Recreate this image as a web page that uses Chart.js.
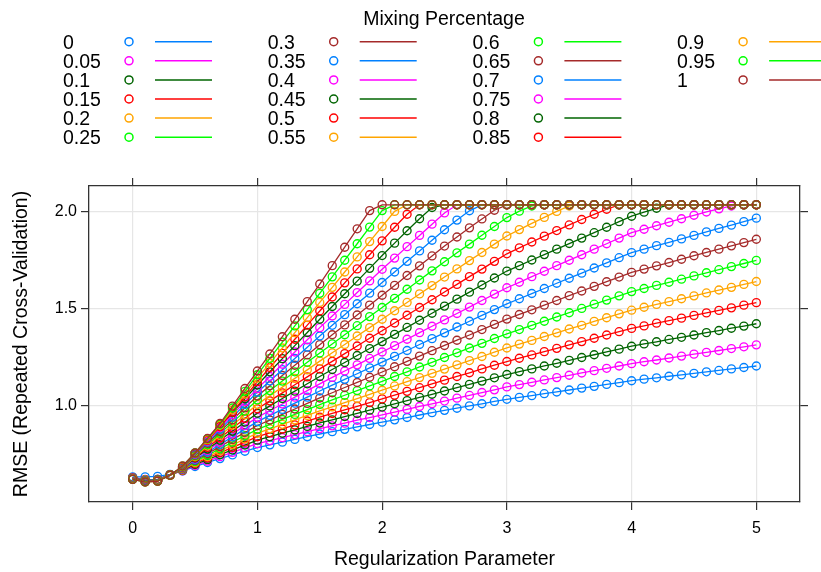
<!DOCTYPE html>
<html>
<head>
<meta charset="utf-8">
<script src="https://cdn.jsdelivr.net/npm/chart.js@4.4.1/dist/chart.umd.min.js"></script>
<style>
  html, body { margin: 0; padding: 0; background: #fff; }
  #wrap { width: 821px; height: 572px; }
</style>
</head>
<body>
<div id="wrap"><canvas id="chart" width="821" height="572"></canvas></div>
<script>
// regularization parameter (x)
const lambdas = [0,0.1,0.2,0.3,0.4,0.5,0.6,0.7,0.8,0.9,1,1.1,1.2,1.3,1.4,1.5,1.6,1.7,1.8,1.9,2,
  2.1,2.2,2.3,2.4,2.5,2.6,2.7,2.8,2.9,3,3.1,3.2,3.3,3.4,3.5,3.6,3.7,3.8,3.9,4,
  4.1,4.2,4.3,4.4,4.5,4.6,4.7,4.8,4.9,5];

// mixing percentage (one series each)
const mixLabels = ['0','0.05','0.1','0.15','0.2','0.25','0.3','0.35','0.4','0.45','0.5',
  '0.55','0.6','0.65','0.7','0.75','0.8','0.85','0.9','0.95','1'];

// RMSE, one array per mixing percentage
const rmse000 = [0.630,0.630,0.632,0.642,0.660,0.683,0.704,0.724,0.743,0.762,0.781,
  0.795,0.809,0.823,0.837,0.851,0.863,0.875,0.888,0.900,0.912,
  0.924,0.936,0.949,0.961,0.973,0.984,0.996,1.007,1.019,1.030,
  1.040,1.049,1.059,1.068,1.078,1.088,1.097,1.107,1.116,1.126,
  1.134,1.141,1.149,1.156,1.164,1.172,1.179,1.187,1.194,1.202];
const rmse005 = [0.626,0.616,0.617,0.641,0.661,0.689,0.711,0.734,0.756,0.779,0.801,
  0.817,0.832,0.848,0.863,0.879,0.893,0.907,0.922,0.936,0.950,
  0.964,0.978,0.993,1.007,1.021,1.036,1.050,1.065,1.079,1.094,
  1.106,1.118,1.130,1.142,1.154,1.166,1.178,1.190,1.202,1.214,
  1.224,1.233,1.243,1.253,1.263,1.272,1.282,1.292,1.301,1.311];
const rmse010 = [0.626,0.615,0.616,0.641,0.663,0.694,0.719,0.744,0.769,0.794,0.819,
  0.837,0.855,0.872,0.890,0.908,0.924,0.941,0.957,0.974,0.990,
  1.007,1.023,1.040,1.056,1.073,1.090,1.107,1.124,1.141,1.158,
  1.173,1.187,1.202,1.216,1.231,1.246,1.260,1.275,1.289,1.304,
  1.316,1.327,1.339,1.350,1.362,1.374,1.385,1.397,1.408,1.420];
const rmse015 = [0.625,0.615,0.616,0.641,0.664,0.699,0.727,0.754,0.782,0.809,0.837,
  0.857,0.877,0.898,0.918,0.938,0.957,0.976,0.994,1.013,1.032,
  1.051,1.071,1.090,1.110,1.129,1.148,1.167,1.187,1.206,1.225,
  1.242,1.259,1.276,1.293,1.311,1.328,1.345,1.362,1.379,1.396,
  1.409,1.423,1.436,1.449,1.463,1.476,1.489,1.502,1.516,1.529];
const rmse020 = [0.625,0.614,0.615,0.640,0.665,0.704,0.734,0.764,0.795,0.825,0.855,
  0.878,0.901,0.924,0.947,0.970,0.991,1.013,1.034,1.056,1.077,
  1.099,1.121,1.142,1.164,1.186,1.208,1.230,1.251,1.273,1.295,
  1.315,1.334,1.354,1.373,1.393,1.412,1.432,1.451,1.471,1.490,
  1.505,1.520,1.534,1.549,1.564,1.579,1.594,1.608,1.623,1.638];
const rmse025 = [0.624,0.613,0.615,0.640,0.667,0.709,0.742,0.775,0.809,0.842,0.875,
  0.901,0.926,0.952,0.977,1.003,1.027,1.051,1.075,1.099,1.123,
  1.148,1.172,1.197,1.221,1.246,1.270,1.295,1.319,1.344,1.368,
  1.390,1.412,1.433,1.455,1.477,1.499,1.521,1.542,1.564,1.586,
  1.602,1.618,1.634,1.650,1.667,1.683,1.699,1.715,1.731,1.747];
const rmse030 = [0.624,0.612,0.614,0.640,0.668,0.714,0.750,0.786,0.823,0.859,0.895,
  0.923,0.952,0.980,1.009,1.037,1.064,1.091,1.117,1.144,1.171,
  1.198,1.226,1.253,1.281,1.308,1.335,1.362,1.390,1.417,1.444,
  1.468,1.492,1.516,1.540,1.565,1.589,1.613,1.637,1.661,1.685,
  1.702,1.719,1.736,1.753,1.771,1.788,1.805,1.822,1.839,1.856];
const rmse035 = [0.623,0.612,0.614,0.640,0.669,0.718,0.757,0.797,0.836,0.876,0.915,
  0.947,0.978,1.010,1.041,1.073,1.103,1.133,1.162,1.192,1.222,
  1.252,1.282,1.313,1.343,1.373,1.403,1.433,1.463,1.493,1.523,
  1.549,1.576,1.602,1.629,1.655,1.681,1.708,1.734,1.761,1.787,
  1.805,1.823,1.840,1.858,1.876,1.894,1.912,1.929,1.947,1.965];
const rmse040 = [0.623,0.611,0.613,0.640,0.670,0.723,0.766,0.809,0.851,0.894,0.937,
  0.972,1.006,1.041,1.075,1.110,1.143,1.176,1.208,1.241,1.274,
  1.307,1.340,1.374,1.407,1.440,1.473,1.506,1.540,1.573,1.606,
  1.634,1.663,1.691,1.720,1.748,1.776,1.805,1.833,1.862,1.890,
  1.908,1.926,1.944,1.962,1.980,1.997,2.013,2.028,2.034,2.034];
const rmse045 = [0.622,0.610,0.613,0.640,0.672,0.727,0.773,0.819,0.866,0.912,0.958,
  0.996,1.034,1.072,1.110,1.148,1.184,1.220,1.256,1.292,1.328,
  1.365,1.401,1.438,1.474,1.511,1.547,1.583,1.620,1.656,1.692,
  1.720,1.749,1.777,1.805,1.834,1.862,1.890,1.918,1.947,1.975,
  1.996,2.016,2.034,2.034,2.034,2.034,2.034,2.034,2.034,2.034];
const rmse050 = [0.622,0.610,0.612,0.639,0.673,0.731,0.781,0.831,0.881,0.931,0.981,
  1.022,1.063,1.105,1.146,1.187,1.226,1.266,1.305,1.345,1.384,
  1.424,1.464,1.504,1.544,1.584,1.623,1.663,1.702,1.742,1.781,
  1.812,1.842,1.872,1.901,1.930,1.958,1.985,2.011,2.034,2.034,
  2.034,2.034,2.034,2.034,2.034,2.034,2.034,2.034,2.034,2.034];
const rmse055 = [0.621,0.609,0.612,0.639,0.674,0.735,0.789,0.843,0.896,0.950,1.004,
  1.049,1.093,1.138,1.182,1.227,1.270,1.313,1.357,1.400,1.443,
  1.487,1.530,1.574,1.617,1.661,1.703,1.746,1.788,1.831,1.873,
  1.906,1.938,1.969,2.000,2.028,2.034,2.034,2.034,2.034,2.034,
  2.034,2.034,2.034,2.034,2.034,2.034,2.034,2.034,2.034,2.034];
const rmse060 = [0.621,0.608,0.611,0.639,0.676,0.738,0.796,0.854,0.911,0.969,1.027,
  1.075,1.124,1.172,1.221,1.269,1.316,1.363,1.410,1.457,1.504,
  1.551,1.598,1.646,1.693,1.740,1.786,1.831,1.877,1.922,1.968,
  2.001,2.028,2.034,2.034,2.034,2.034,2.034,2.034,2.034,2.034,
  2.034,2.034,2.034,2.034,2.034,2.034,2.034,2.034,2.034,2.034];
const rmse065 = [0.620,0.608,0.611,0.639,0.677,0.742,0.803,0.864,0.925,0.986,1.047,
  1.100,1.153,1.206,1.259,1.312,1.363,1.414,1.465,1.516,1.567,
  1.618,1.669,1.719,1.770,1.821,1.868,1.915,1.961,2.006,2.034,
  2.034,2.034,2.034,2.034,2.034,2.034,2.034,2.034,2.034,2.034,
  2.034,2.034,2.034,2.034,2.034,2.034,2.034,2.034,2.034,2.034];
const rmse070 = [0.620,0.607,0.610,0.639,0.678,0.745,0.809,0.874,0.938,1.003,1.067,
  1.125,1.183,1.241,1.299,1.357,1.412,1.467,1.523,1.578,1.633,
  1.687,1.742,1.796,1.851,1.905,1.955,2.003,2.034,2.034,2.034,
  2.034,2.034,2.034,2.034,2.034,2.034,2.034,2.034,2.034,2.034,
  2.034,2.034,2.034,2.034,2.034,2.034,2.034,2.034,2.034,2.034];
const rmse075 = [0.619,0.606,0.610,0.639,0.680,0.748,0.815,0.883,0.950,1.018,1.085,
  1.148,1.211,1.274,1.337,1.400,1.460,1.520,1.581,1.641,1.701,
  1.759,1.818,1.876,1.934,1.992,2.034,2.034,2.034,2.034,2.034,
  2.034,2.034,2.034,2.034,2.034,2.034,2.034,2.034,2.034,2.034,
  2.034,2.034,2.034,2.034,2.034,2.034,2.034,2.034,2.034,2.034];
const rmse080 = [0.619,0.606,0.609,0.638,0.681,0.750,0.821,0.892,0.962,1.033,1.104,
  1.172,1.240,1.307,1.375,1.443,1.509,1.575,1.640,1.706,1.772,
  1.836,1.900,1.962,2.020,2.034,2.034,2.034,2.034,2.034,2.034,
  2.034,2.034,2.034,2.034,2.034,2.034,2.034,2.034,2.034,2.034,
  2.034,2.034,2.034,2.034,2.034,2.034,2.034,2.034,2.034,2.034];
const rmse085 = [0.618,0.605,0.609,0.638,0.682,0.751,0.818,0.889,0.964,1.042,1.121,
  1.194,1.267,1.340,1.413,1.486,1.558,1.631,1.703,1.776,1.848,
  1.918,1.985,2.034,2.034,2.034,2.034,2.034,2.034,2.034,2.034,
  2.034,2.034,2.034,2.034,2.034,2.034,2.034,2.034,2.034,2.034,
  2.034,2.034,2.034,2.034,2.034,2.034,2.034,2.034,2.034,2.034];
const rmse090 = [0.618,0.604,0.608,0.638,0.683,0.752,0.822,0.896,0.975,1.057,1.139,
  1.217,1.295,1.374,1.452,1.530,1.608,1.687,1.765,1.844,1.922,
  2.000,2.034,2.034,2.034,2.034,2.034,2.034,2.034,2.034,2.034,
  2.034,2.034,2.034,2.034,2.034,2.034,2.034,2.034,2.034,2.034,
  2.034,2.034,2.034,2.034,2.034,2.034,2.034,2.034,2.034,2.034];
const rmse095 = [0.617,0.604,0.608,0.638,0.685,0.753,0.826,0.901,0.985,1.071,1.157,
  1.241,1.325,1.409,1.493,1.577,1.662,1.748,1.833,1.919,2.004,
  2.034,2.034,2.034,2.034,2.034,2.034,2.034,2.034,2.034,2.034,
  2.034,2.034,2.034,2.034,2.034,2.034,2.034,2.034,2.034,2.034,
  2.034,2.034,2.034,2.034,2.034,2.034,2.034,2.034,2.034,2.034];
const rmse100 = [0.617,0.603,0.607,0.638,0.686,0.753,0.828,0.905,0.995,1.086,1.176,
  1.264,1.353,1.443,1.534,1.625,1.720,1.815,1.910,2.004,2.034,
  2.034,2.034,2.034,2.034,2.034,2.034,2.034,2.034,2.034,2.034,
  2.034,2.034,2.034,2.034,2.034,2.034,2.034,2.034,2.034,2.034,
  2.034,2.034,2.034,2.034,2.034,2.034,2.034,2.034,2.034,2.034];

const rmseSeries = [rmse000, rmse005, rmse010, rmse015, rmse020, rmse025, rmse030,
  rmse035, rmse040, rmse045, rmse050, rmse055, rmse060, rmse065, rmse070,
  rmse075, rmse080, rmse085, rmse090, rmse095, rmse100];

// axis ticks
const xTicks = [0, 1, 2, 3, 4, 5];
const yTicks = [1.0, 1.5, 2.0];

// lattice superpose colours, recycled
const palette = ['#0080ff', '#ff00ff', '#006400', '#ff0000', '#ffa500', '#00ff00', '#a52a2a'];

const FONT = '"Liberation Sans", Arial, Helvetica, sans-serif';
Chart.defaults.font.family = FONT;
Chart.defaults.color = '#000';

const datasets = rmseSeries.map((vals, i) => ({
  label: mixLabels[i],
  data: lambdas.map((x, j) => ({ x: x, y: vals[j] })),
  borderColor: palette[i % palette.length],
  backgroundColor: 'rgba(0,0,0,0)',
  borderWidth: 1.3,
  pointRadius: 4,
  pointBorderWidth: 1.35,
  pointBackgroundColor: 'rgba(0,0,0,0)',
  pointBorderColor: palette[i % palette.length],
  tension: 0,
  order: rmseSeries.length - i   // last group drawn on top, like lattice
}));

// key above the panel: title + 4 columns of "label  o  ----"
const latticeKey = {
  id: 'latticeKey',
  afterDraw(chart) {
    const ctx = chart.ctx;
    ctx.save();
    ctx.fillStyle = '#000';
    ctx.textAlign = 'center';
    ctx.textBaseline = 'alphabetic';
    ctx.font = '19.5px ' + FONT;
    ctx.fillText('Mixing Percentage', 444, 25);
    ctx.textAlign = 'left';
    chart.data.datasets.forEach((ds, i) => {
      const col = Math.floor(i / 6), row = i % 6;
      const x0 = 63 + col * 204.7;
      const y = 41.7 + row * 19.1;
      ctx.fillStyle = '#000';
      ctx.fillText(ds.label, x0, y + 7);
      ctx.strokeStyle = ds.borderColor;
      ctx.lineWidth = 1.5;
      ctx.beginPath();
      ctx.arc(x0 + 66, y, 4, 0, Math.PI * 2);
      ctx.stroke();
      ctx.beginPath();
      ctx.moveTo(x0 + 92, y);
      ctx.lineTo(x0 + 149, y);
      ctx.stroke();
    });
    ctx.restore();
  }
};

const setTicks = (vals) => (scale) => { scale.ticks = vals.map(v => ({ value: v })); };

new Chart(document.getElementById('chart').getContext('2d'), {
  type: 'line',
  data: { datasets: datasets },
  plugins: [latticeKey],
  options: {
    responsive: false,
    animation: false,
    events: [],
    devicePixelRatio: 1,
    layout: { padding: { top: 178, right: 13, left: 0, bottom: 0 } },
    plugins: { legend: { display: false }, tooltip: { enabled: false } },
    scales: {
      x: {
        type: 'linear', position: 'bottom', min: -0.35, max: 5.35,
        afterBuildTicks: setTicks(xTicks),
        afterFit: (s) => { s.height = 70; },
        grid: { color: '#e6e6e6', tickColor: '#333', tickLength: 8, lineWidth: 1.2 },
        border: { display: true, color: '#333', width: 1.3 },
        ticks: { font: { size: 16 }, padding: 9, callback: (v) => String(v) },
        title: { display: true, text: 'Regularization Parameter', font: { size: 19.5 }, padding: { top: 0, bottom: 1 } }
      },
      x2: {
        type: 'linear', position: 'top', min: -0.35, max: 5.35,
        afterBuildTicks: setTicks(xTicks),
        afterFit: (s) => { s.height = 8; },
        grid: { drawOnChartArea: false, tickColor: '#333', tickLength: 8, lineWidth: 1.2 },
        border: { display: true, color: '#333', width: 1.3 },
        ticks: { display: false }
      },
      y: {
        type: 'linear', position: 'left', min: 0.5, max: 2.131,
        afterBuildTicks: setTicks(yTicks),
        afterFit: (s) => { s.width = 89; },
        grid: { color: '#e6e6e6', tickColor: '#333', tickLength: 8, lineWidth: 1.2 },
        border: { display: true, color: '#333', width: 1.3 },
        ticks: { font: { size: 16 }, padding: 4, callback: (v) => v.toFixed(1) },
        title: { display: true, text: 'RMSE (Repeated Cross-Validation)', font: { size: 19.5 }, padding: { top: 10, bottom: 0 } }
      },
      y2: {
        type: 'linear', position: 'right', min: 0.5, max: 2.131,
        afterBuildTicks: setTicks(yTicks),
        afterFit: (s) => { s.width = 8; },
        grid: { drawOnChartArea: false, tickColor: '#333', tickLength: 8, lineWidth: 1.2 },
        border: { display: true, color: '#333', width: 1.3 },
        ticks: { display: false }
      }
    }
  }
});
</script>
</body>
</html>
